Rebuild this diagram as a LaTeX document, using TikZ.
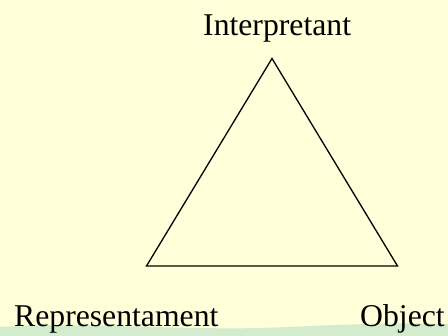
\documentclass[tikz,border=0pt]{standalone}
\usepackage{fontspec}
\setmainfont{Liberation Serif}
\definecolor{bgyellow}{RGB}{255,255,218}
\definecolor{bandgreen}{RGB}{212,236,206}
\begin{document}
\begin{tikzpicture}[x=1pt,y=-1pt,
  lbl/.style={anchor=base west,inner sep=0pt,font=\fontsize{31.7}{38}\selectfont},
  edge/.style={line width=1.3pt,line join=miter}]
\useasboundingbox (0,0) rectangle (448,336);
\fill[bgyellow] (0,0) rectangle (448,336);
\fill[bandgreen] (0,336) -- (0,327) .. controls (80,322) and (180,330) .. (260,328) .. controls (320,326) and (380,322) .. (448,324) -- (448,336) -- cycle;
\node[lbl] (interp) at (203,36) {Interpretant};
\node[lbl] (repr) at (14,327) {Representament};
\node[lbl] (obj) at (360,327) {Object};
\coordinate (top) at (272,58.5);
\coordinate (bl) at (146.5,266);
\coordinate (br) at (397.5,266);
\draw[edge] (top) -- (bl) -- (br) -- cycle;
\end{tikzpicture}
\end{document}
